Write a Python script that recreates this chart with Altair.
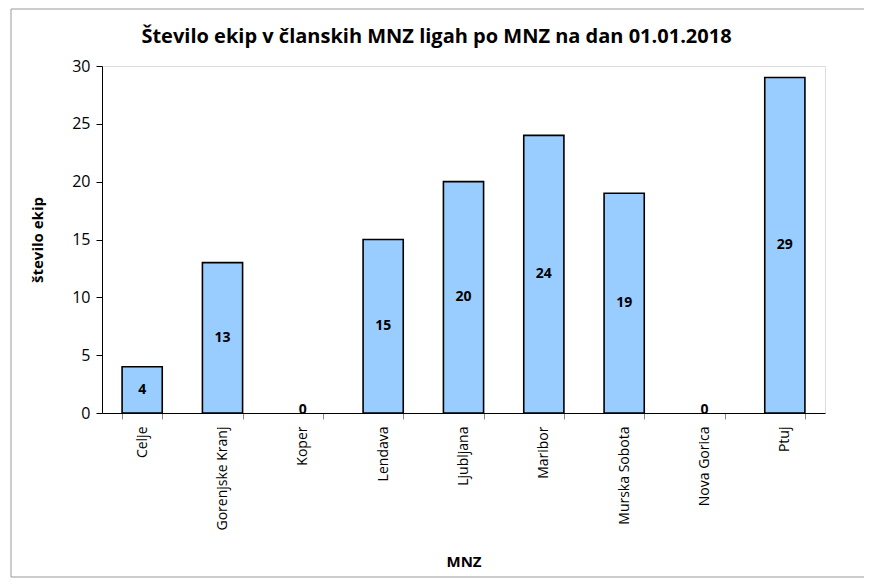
import altair as alt
import pandas as pd

categories = ["Celje", "Gorenjske Kranj", "Koper", "Lendava", "Ljubljana",
              "Maribor", "Murska Sobota", "Nova Gorica", "Ptuj"]
values = [4, 13, 0, 15, 20, 24, 19, 0, 29]

df = pd.DataFrame({"MNZ": categories, "ekip": values})
df["mid"] = df["ekip"] / 2

W, H = 723, 347
FONT = "Open Sans"

x = alt.X("MNZ:N", sort=categories,
          scale=alt.Scale(paddingInner=0.5, paddingOuter=0.25),
          axis=alt.Axis(title="MNZ", labelAngle=-90, labelFontSize=14,
                        labelColor="#000", labelFont=FONT, labelPadding=7,
                        tickBand="extent", tickColor="#888", tickSize=6,
                        domainColor="#000", domainWidth=1,
                        titleFont=FONT, titleFontSize=15, titleFontWeight="bold",
                        titleColor="#000", titlePadding=24))
y = alt.Y("ekip:Q", scale=alt.Scale(domain=[0, 30]),
          axis=alt.Axis(title="število ekip", values=[0, 5, 10, 15, 20, 25, 30],
                        grid=False, labelFontSize=16, labelColor="#000",
                        labelFont=FONT, tickColor="#000", tickSize=6,
                        labelPadding=6, domainColor="#000",
                        titleFont=FONT, titleFontSize=15, titleFontWeight="bold",
                        titleColor="#000", titlePadding=26))

border = alt.Chart(pd.DataFrame({"a": [0]})).mark_rect(
    fill=None, stroke="#999", strokeWidth=1, clip=False
).encode(x=alt.value(-91), x2=alt.value(W + 41), y=alt.value(-57), y2=alt.value(H + 164))

bars = alt.Chart(df).mark_bar(fill="#99CCFF", stroke="#000", strokeWidth=1.6).encode(
    x=x, y=y,
    strokeOpacity=alt.condition("datum.ekip > 0", alt.value(1), alt.value(0)))

labels = alt.Chart(df).transform_filter("datum.ekip > 0").mark_text(
    fontWeight="bold", fontSize=14, font=FONT, color="#000", baseline="middle"
).encode(x=alt.X("MNZ:N", sort=categories), y=alt.Y("mid:Q"), text="ekip:Q")

zero_labels = alt.Chart(df).transform_filter("datum.ekip == 0").mark_text(
    fontWeight="bold", fontSize=14, font=FONT, color="#000", baseline="bottom", dy=4
).encode(x=alt.X("MNZ:N", sort=categories), y=alt.Y("ekip:Q"), text="ekip:Q")

chart = alt.layer(border, bars, labels, zero_labels).properties(
    width=W, height=H,
    title=alt.TitleParams("Število ekip v članskih MNZ ligah po MNZ na dan 01.01.2018",
                          font=FONT, fontSize=20, fontWeight="bold", color="#000",
                          offset=-38, dx=-27),
    padding={"left": 94, "top": 58, "right": 39, "bottom": 165},
    autosize=alt.AutoSizeParams(type="none"),
).configure_view(stroke="#999", strokeWidth=1).configure(background="white")

chart.save("out.html", embed_options={"renderer": "svg", "actions": False})
